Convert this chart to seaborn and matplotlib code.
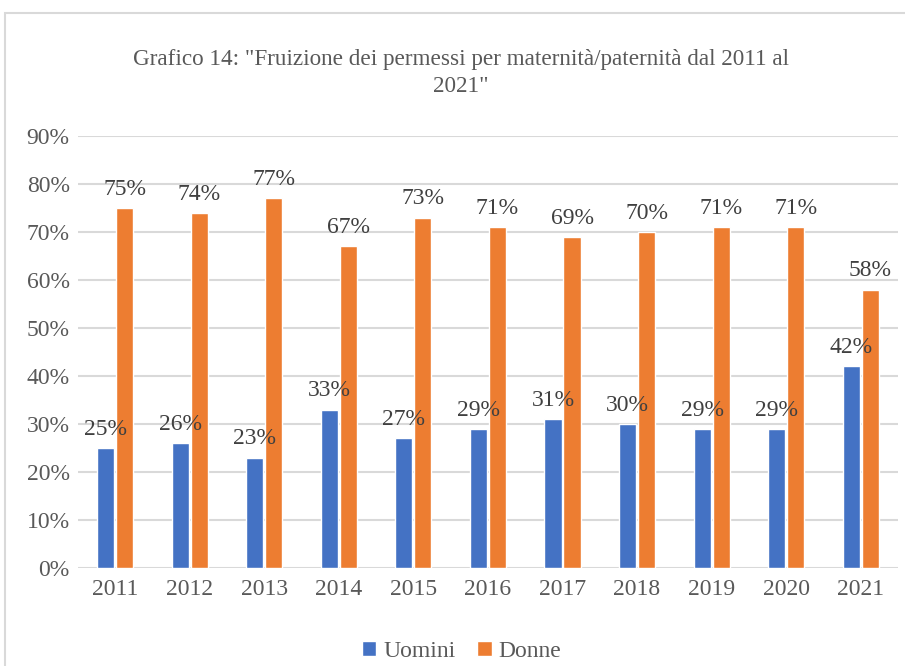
import matplotlib
matplotlib.use("Agg")
import matplotlib.pyplot as plt
from matplotlib.patches import Rectangle
from matplotlib.ticker import PercentFormatter
import pandas as pd
import seaborn as sns

years = ["2011", "2012", "2013", "2014", "2015", "2016", "2017", "2018", "2019", "2020", "2021"]
uomini = [25, 26, 23, 33, 27, 29, 31, 30, 29, 29, 42]
donne = [75, 74, 77, 67, 73, 71, 69, 70, 71, 71, 58]
series = ["Uomini", "Donne"]
colors = ["#4472C4", "#ED7D31"]
title = 'Grafico 14: "Fruizione dei permessi per maternità/paternità dal 2011 al\n2021"'

df = pd.DataFrame({
    "anno": years * 2,
    "valore": uomini + donne,
    "serie": ["Uomini"] * len(years) + ["Donne"] * len(years),
})

sns.set_theme(style="white")
plt.rcParams["font.family"] = ["Liberation Serif", "DejaVu Serif"]

fig = plt.figure(figsize=(9.05, 6.66), dpi=100)
ax = fig.add_axes([0.0862, 0.1471, 0.906, 0.6486])

sns.barplot(data=df, x="anno", y="valore", hue="serie", hue_order=series,
            palette=colors, width=0.51, gap=0.1, saturation=1, ax=ax, legend=True)

for cont in ax.containers:
    ax.bar_label(cont, labels=[f"{v:.0f}%" for v in cont.datavalues],
                 padding=6, fontsize=17, color="#404040")

ax.set_ylim(0, 90)
ax.set_yticks(range(0, 91, 10))
ax.yaxis.set_major_formatter(PercentFormatter(decimals=0))
ax.grid(axis="y", color="#D9D9D9", linewidth=1.5)
ax.set_axisbelow(True)
for s in ax.spines.values():
    s.set_visible(False)
ax.tick_params(axis="both", length=0, labelsize=17, labelcolor="#595959")
ax.tick_params(axis="y", pad=6)
ax.tick_params(axis="x", pad=8)
ax.set_xlabel("")
ax.set_ylabel("")
ax.set_xlim(-0.5, len(years) - 0.5)

leg = ax.legend(loc="center", bbox_to_anchor=(0.51, 0.022), bbox_transform=fig.transFigure,
                ncol=2, frameon=False, fontsize=17, handlelength=0.62, handleheight=0.62,
                handletextpad=0.3, columnspacing=0.9)
for t in leg.get_texts():
    t.set_color("#595959")

fig.text(0.509, 0.89, title, ha="center", va="center", fontsize=16.7,
         color="#595959", linespacing=1.35)

fig.patches.append(Rectangle((5 / 905, -0.2), 2, 1.2 - 13 / 666, transform=fig.transFigure,
                             fill=False, edgecolor="#D9D9D9", linewidth=1.5, zorder=-1))

fig.savefig("out.png", dpi=100)
